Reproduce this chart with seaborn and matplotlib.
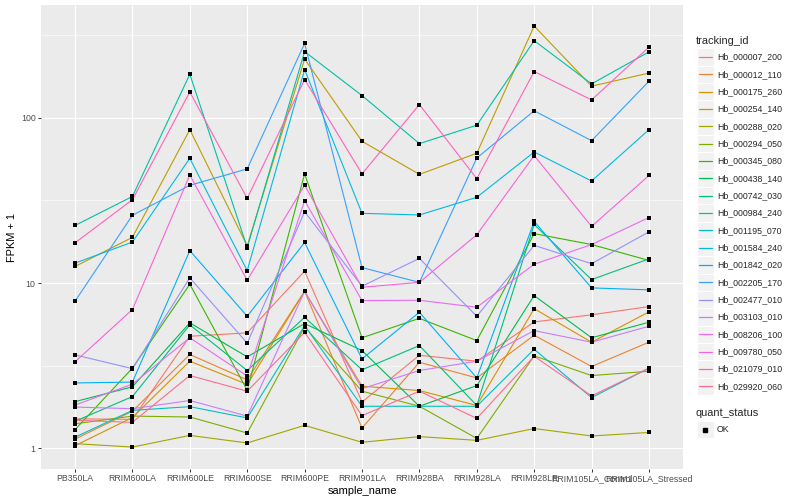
import numpy as np
import pandas as pd
import matplotlib
matplotlib.use("Agg")
import matplotlib.pyplot as plt
import matplotlib.ticker as mticker
from matplotlib.patches import Rectangle
from matplotlib.lines import Line2D
import seaborn as sns

# ---------------- data (FPKM + 1) ----------------
samples = ["PB350LA", "RRIM600LA", "RRIM600LE", "RRIM600SE", "RRIM600PE",
           "RRIM901LA", "RRIM928BA", "RRIM928LA", "RRIM928LE",
           "RRIM105LA_Control", "RRIM105LA_Stressed"]

tracking_ids = ["Hb_000007_200", "Hb_000012_110", "Hb_000175_260", "Hb_000254_140",
                "Hb_000288_020", "Hb_000294_050", "Hb_000345_080", "Hb_000438_140",
                "Hb_000742_030", "Hb_000984_240", "Hb_001195_070", "Hb_001584_240",
                "Hb_001842_020", "Hb_002205_170", "Hb_002477_010", "Hb_003103_010",
                "Hb_008206_100", "Hb_009780_050", "Hb_021079_010", "Hb_029920_060"]

palette = ["#F8766D", "#EA8331", "#D89000", "#C09B00", "#A3A500", "#7CAE00",
           "#39B600", "#00BB4E", "#00BF7D", "#00C1A3", "#00BFC4", "#00BAE0",
           "#00B0F6", "#35A2FF", "#9590FF", "#C77CFF", "#E76BF3", "#FA62DB",
           "#FF62BC", "#FF6C91"]

Hb_000007_200 = [1.51, 1.50, 4.77, 5.00, 11.8, 1.91, 3.66, 3.37, 5.82, 6.43, 7.21]
Hb_000012_110 = [1.14, 1.68, 3.70, 2.60, 8.93, 1.33, 3.32, 2.67, 4.84, 3.13, 4.39]
Hb_000175_260 = [1.04, 1.54, 3.37, 2.44, 8.90, 2.38, 2.24, 1.82, 7.00, 4.39, 6.70]
Hb_000254_140 = [12.6, 18.9, 84.6, 16.8, 226, 72.0, 45.4, 60.9, 358, 155, 186]
Hb_000288_020 = [1.07, 1.02, 1.20, 1.08, 1.38, 1.09, 1.18, 1.12, 1.32, 1.19, 1.25]
Hb_000294_050 = [1.41, 1.57, 1.55, 1.24, 5.43, 2.22, 1.80, 1.15, 3.63, 2.76, 2.93]
Hb_000345_080 = [1.30, 3.06, 9.84, 2.25, 45.7, 4.67, 6.12, 4.49, 19.9, 17.1, 13.7]
Hb_000438_140 = [1.92, 2.36, 5.75, 3.58, 5.69, 3.91, 1.80, 2.40, 8.40, 4.67, 5.80]
Hb_000742_030 = [1.46, 2.06, 5.59, 2.96, 6.21, 2.99, 4.19, 1.82, 22.6, 10.5, 14.0]
Hb_000984_240 = [22.3, 33.4, 183, 16.4, 251, 136, 69.7, 90.0, 292, 160, 250]
Hb_001195_070 = [1.17, 1.70, 1.79, 1.53, 5.53, 1.80, 1.80, 1.80, 3.98, 2.03, 3.06]
Hb_001584_240 = [13.2, 17.7, 56.8, 11.9, 195, 26.4, 25.8, 33.0, 62.0, 41.4, 84.6]
Hb_001842_020 = [2.49, 2.52, 15.7, 6.30, 17.6, 3.48, 6.66, 2.67, 23.6, 9.35, 9.10]
Hb_002205_170 = [7.77, 25.7, 39.0, 49.0, 281, 12.4, 10.1, 57.0, 110, 72.6, 166]
Hb_002477_010 = [3.68, 3.04, 10.75, 4.33, 27.0, 9.57, 14.1, 6.30, 16.9, 13.1, 20.4]
Hb_003103_010 = [1.78, 1.74, 1.95, 1.57, 8.90, 2.30, 2.96, 3.37, 5.16, 4.39, 5.48]
Hb_008206_100 = [1.83, 2.45, 4.67, 2.74, 31.5, 7.84, 7.87, 7.14, 13.0, 17.1, 24.9]
Hb_009780_050 = [3.34, 6.92, 45.0, 10.4, 39.0, 9.43, 10.1, 19.6, 59.0, 22.0, 44.7]
Hb_021079_010 = [17.5, 31.9, 143, 32.5, 170, 45.7, 120, 42.8, 190, 128, 267]
Hb_029920_060 = [1.48, 1.44, 2.76, 2.22, 5.04, 1.58, 2.22, 1.52, 3.61, 2.08, 3.06]

series_values = [Hb_000007_200, Hb_000012_110, Hb_000175_260, Hb_000254_140,
                 Hb_000288_020, Hb_000294_050, Hb_000345_080, Hb_000438_140,
                 Hb_000742_030, Hb_000984_240, Hb_001195_070, Hb_001584_240,
                 Hb_001842_020, Hb_002205_170, Hb_002477_010, Hb_003103_010,
                 Hb_008206_100, Hb_009780_050, Hb_021079_010, Hb_029920_060]

y_ticks = [1, 10, 100]
y_tick_labels = ["1", "10", "100"]

rows = []
for tid, vals in zip(tracking_ids, series_values):
    for i, (s, v) in enumerate(zip(samples, vals)):
        rows.append({"tracking_id": tid, "sample_name": s, "pos": i,
                     "value": v, "quant_status": "OK"})
df = pd.DataFrame(rows)

# ---------------- style ----------------
sns.set_style("darkgrid", {"axes.facecolor": "#EBEBEB", "grid.color": "white"})
plt.rcParams["font.family"] = ["Liberation Sans", "DejaVu Sans"]

W, H = 800, 500
fig = plt.figure(figsize=(8, 5), dpi=100)
px_l, px_r, px_t, px_b = 40.6, 683.4, 5.0, 469.0
ax = fig.add_axes([px_l / W, 1 - px_b / H, (px_r - px_l) / W, (px_b - px_t) / H])

pal = dict(zip(tracking_ids, palette))
sns.lineplot(data=df, x="pos", y="value", hue="tracking_id", hue_order=tracking_ids,
             palette=pal, linewidth=0.8, legend=False, ax=ax, sort=False,
             estimator=None, zorder=2)
sns.scatterplot(data=df, x="pos", y="value", color="black", marker="s", s=6,
                linewidth=0, legend=False, ax=ax, zorder=3)

ax.set_yscale("log")
ax.set_xlim(-0.6, len(samples) - 1 + 0.6)
ax.set_ylim(10 ** -0.124, 10 ** 2.681)
ax.set_xticks(range(len(samples)))
ax.set_xticklabels(samples)
ax.yaxis.set_major_locator(mticker.FixedLocator(y_ticks))
ax.yaxis.set_major_formatter(mticker.FixedFormatter(y_tick_labels))
ax.yaxis.set_minor_locator(mticker.FixedLocator([10 ** 0.5, 10 ** 1.5, 10 ** 2.5]))
ax.yaxis.set_minor_formatter(mticker.NullFormatter())

ax.grid(False)
ax.grid(which="major", axis="both", color="white", linewidth=0.8)
ax.grid(which="minor", axis="y", color="white", linewidth=0.4)
ax.set_axisbelow(True)
for sp in ax.spines.values():
    sp.set_visible(False)

ax.tick_params(axis="both", which="major", length=2, width=0.7, color="#333333",
               labelsize=6.3, labelcolor="#4D4D4D", pad=1.6, bottom=True, left=True)
ax.tick_params(axis="y", which="minor", length=0)

ax.set_xlabel("sample_name", fontsize=7.9, color="black", labelpad=2)
ax.set_ylabel("FPKM + 1", fontsize=7.9, color="black", labelpad=3)

# ---------------- legend (ggplot style) ----------------
def fx(x):
    return x / W

def fy(y):
    return 1 - y / H

key_w, key_h = 17.3, 17.3
key_x = 696.5
fig.text(fx(696), fy(40.5), "tracking_id", fontsize=7.9, va="center", ha="left")
for i, (tid, col) in enumerate(zip(tracking_ids, palette)):
    cy = 57.0 + 17.33 * i
    fig.add_artist(Rectangle((fx(key_x), fy(cy + key_h / 2)), key_w / W, key_h / H,
                             transform=fig.transFigure, facecolor="#F2F2F2",
                             edgecolor="white", linewidth=0.8))
    fig.add_artist(Line2D([fx(key_x + 2), fx(key_x + key_w - 2)], [fy(cy), fy(cy)],
                          transform=fig.transFigure, color=col, linewidth=0.9))
    fig.text(fx(717), fy(cy), tid, fontsize=6.3, va="center", ha="left")

fig.text(fx(696), fy(412.5), "quant_status", fontsize=7.9, va="center", ha="left")
cy = 429.5
fig.add_artist(Rectangle((fx(key_x), fy(cy + key_h / 2)), key_w / W, key_h / H,
                         transform=fig.transFigure, facecolor="#F2F2F2",
                         edgecolor="white", linewidth=0.8))
fig.add_artist(Line2D([fx(key_x + key_w / 2)], [fy(cy)], transform=fig.transFigure,
                      marker="s", markersize=2.4, color="black", linestyle="none"))
fig.text(fx(717), fy(cy), "OK", fontsize=6.3, va="center", ha="left")

fig.savefig("out.png", dpi=100, facecolor="white")
